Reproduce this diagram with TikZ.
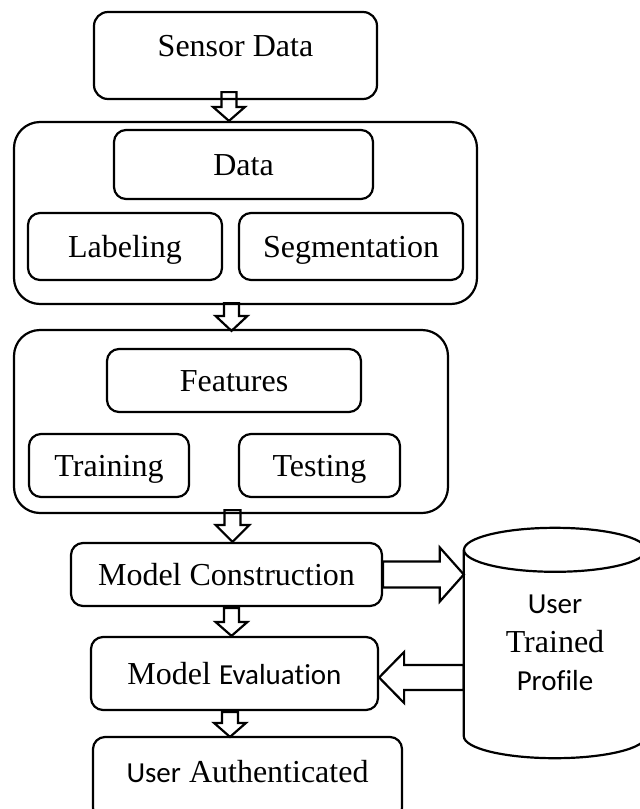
\documentclass[tikz,border=0pt]{standalone}
\usepackage{fontspec}
\setmainfont{Liberation Serif}
\newfontfamily\carlfam[Ligatures=NoCommon]{Carlito}
\usetikzlibrary{calc}
\newcommand\sanspart[1]{{\carlfam\fontsize{29}{34}\selectfont #1}}
\newcommand\serifsz{\fontsize{32}{38.5}\selectfont}
% block arrow: #1 start, #2 tip, #3 shaft half width, #4 head half width, #5 head length
\newcommand\blockarr[5]{%
  \coordinate (ba-c) at ($(#2)!#5!(#1)$);
  \draw[arrowline] ($(#1)!#3!90:(#2)$) -- ($(ba-c)!#3!-90:(#1)$) -- ($(ba-c)!#4!-90:(#1)$)
    -- (#2) -- ($(ba-c)!#4!90:(#1)$) -- ($(ba-c)!#3!90:(#1)$) -- ($(#1)!#3!-90:(#2)$) -- cycle;}
\tikzset{
  box/.style={draw, line width=2.2pt, rounded corners=12pt, font=\serifsz,
    text height=21pt, text depth=0pt, inner sep=0pt},
  outerbox/.style={draw, line width=2.2pt, rounded corners=26pt, inner sep=0pt},
  arrowline/.style={line width=2.2pt, line join=miter},
}
\begin{document}
\begin{tikzpicture}[x=1pt, y=-1pt]
\clip (0,0) rectangle (640,809);
% boxes
\node[box, rounded corners=14pt, minimum width=283pt, minimum height=87pt, text depth=19.5pt] (sensor) at (235.5,55.5) {Sensor Data};
\node[outerbox, minimum width=463pt, minimum height=182pt] (outer1) at (245.5,213) {};
\node[box, minimum width=259pt, minimum height=69pt] (data) at (243.5,164.5) {Data};
\node[box, minimum width=194pt, minimum height=67pt] (label) at (125,246.5) {Labeling};
\node[box, minimum width=224pt, minimum height=67pt] (segm) at (351,246.5) {Segmentation};
\node[outerbox, minimum width=434pt, minimum height=183pt] (outer2) at (231,421.5) {};
\node[box, minimum width=254pt, minimum height=63pt] (feat) at (234,380.5) {Features};
\node[box, minimum width=160pt, minimum height=63pt] (train) at (109,465.5) {Training};
\node[box, minimum width=161pt, minimum height=63pt] (test) at (319.5,465.5) {Testing};
\node[box, minimum width=311pt, minimum height=63pt] (mc) at (226.5,574.5) {Model Construction};
\node[box, minimum width=287pt, minimum height=73pt] (me) at (234.5,673.5) {Model \sanspart{Evaluation}};
\node[box, minimum width=309pt, minimum height=83pt, text depth=12.5pt] (ua) at (247.5,778.5) {\sanspart{User} Authenticated\hspace{20pt}};
% cylinder
\node[minimum width=182pt, minimum height=230pt, inner sep=0pt, font=\serifsz, align=center] (prof) at (555,643)
  {\sanspart{User}\\Trained\\\sanspart{Profile}};
\draw[line width=2.2pt] ($(prof.north west)+(0,22)$) -- ($(prof.south west)+(0,-22)$)
  arc[start angle=180, end angle=360, x radius=91pt, y radius=22pt] -- ($(prof.north east)+(0,22)$);
\draw[line width=2.2pt] ($(prof.north)+(0,22)$) ellipse [x radius=91pt, y radius=22pt];
% arrow end points
\coordinate (a1s) at ($(sensor.south)+(-6.5,-8)$);
\coordinate (a1e) at (a1s |- outer1.north);
\coordinate (a2s) at ($(outer1.south)+(-14,-2)$);
\coordinate (a2e) at ($(a2s |- outer2.north)+(0,2)$);
\coordinate (a3s) at ($(outer2.south)+(1.5,-4)$);
\coordinate (a3e) at (a3s |- mc.north);
\coordinate (a4s) at ($(mc.south)+(5,1)$);
\coordinate (a4e) at (a4s |- me.north);
\coordinate (a5s) at ($(me.south)+(-4.5,1)$);
\coordinate (a5e) at ($(a5s |- ua.north)+(0,1)$);
\coordinate (r1s) at (mc.east);
\coordinate (r1e) at (r1s -| prof.west);
\coordinate (l1s) at ($(prof.west)+(0,34.5)$);
\coordinate (l1e) at (l1s -| me.east);
\blockarr{a1s}{a1e}{7.5pt}{16pt}{14pt}
\blockarr{a2s}{a2e}{7.5pt}{16pt}{15pt}
\blockarr{a3s}{a3e}{8pt}{17pt}{17pt}
\blockarr{a4s}{a4e}{7.5pt}{16pt}{14pt}
\blockarr{a5s}{a5e}{8pt}{16pt}{14pt}
\blockarr{r1s}{r1e}{13pt}{27pt}{24pt}
\blockarr{l1s}{l1e}{12.5pt}{25.5pt}{25pt}
\end{tikzpicture}
\end{document}
